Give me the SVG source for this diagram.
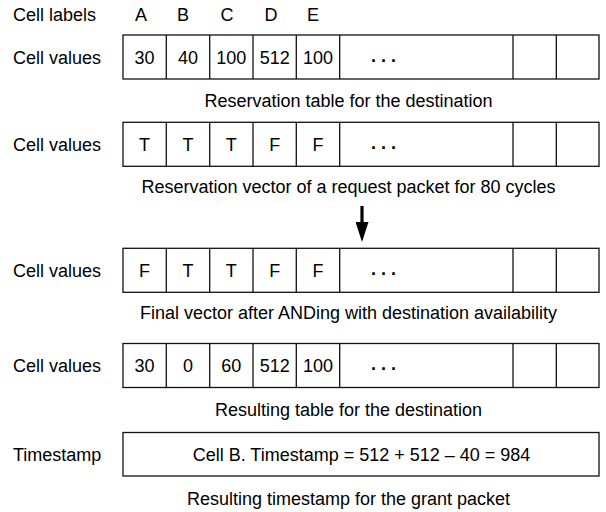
<svg xmlns="http://www.w3.org/2000/svg" width="606" height="512" viewBox="0 0 606 512">
<style>
text{font-family:"Liberation Sans",Arial,Helvetica,sans-serif;font-size:18px;fill:#000}
.c{text-anchor:middle}
.box{fill:none;stroke:#111;stroke-width:1.3}
.div{stroke:#111;stroke-width:1.3}
.dots{font-weight:bold}
</style>
<defs>
<marker id="ah" markerWidth="20" markerHeight="13" refX="0" refY="6.5" orient="auto" markerUnits="userSpaceOnUse" viewBox="0 0 20 13">
<path d="M0,0 L20,6.5 L0,13 Z" fill="#000"/>
</marker>
<g id="cells">
<line class="div" x1="166.3" y1="0" x2="166.3" y2="44"/>
<line class="div" x1="209.7" y1="0" x2="209.7" y2="44"/>
<line class="div" x1="253" y1="0" x2="253" y2="44"/>
<line class="div" x1="296.3" y1="0" x2="296.3" y2="44"/>
<line class="div" x1="339.7" y1="0" x2="339.7" y2="44"/>
<line class="div" x1="513" y1="0" x2="513" y2="44"/>
<line class="div" x1="556.3" y1="0" x2="556.3" y2="44"/>
<rect class="box" x="123" y="0" width="476" height="44"/>
</g>
</defs>

<g id="header">
<text x="13" y="20.5">Cell labels</text>
<text class="c" x="141" y="20.5">A</text>
<text class="c" x="183" y="20.5">B</text>
<text class="c" x="227" y="20.5">C</text>
<text class="c" x="271" y="20.5">D</text>
<text class="c" x="313" y="20.5">E</text>
</g>

<g id="row-reservation-table">
<text x="13" y="63.5">Cell values</text>
<use href="#cells" x="0" y="35"/>
<text class="c" x="144.6" y="63.5">30</text>
<text class="c" x="188" y="63.5">40</text>
<text class="c" x="231.3" y="63.5">100</text>
<text class="c" x="274.7" y="63.5">512</text>
<text class="c" x="318" y="63.5">100</text>
<text class="dots" x="371" y="61.5">. . .</text>
<text class="c" x="348.5" y="107">Reservation table for the destination</text>
</g>

<g id="row-reservation-vector">
<text x="13" y="150.5">Cell values</text>
<use href="#cells" x="0" y="122.3"/>
<text class="c" x="144.6" y="150.5">T</text>
<text class="c" x="188" y="150.5">T</text>
<text class="c" x="231.3" y="150.5">T</text>
<text class="c" x="274.7" y="150.5">F</text>
<text class="c" x="318" y="150.5">F</text>
<text class="dots" x="371" y="148.5">. . .</text>
<text class="c" x="348.5" y="193">Reservation vector of a request packet for 80 cycles</text>
</g>

<g id="row-final-vector">
<text x="13" y="277">Cell values</text>
<use href="#cells" x="0" y="248.3"/>
<text class="c" x="144.6" y="277">F</text>
<text class="c" x="188" y="277">T</text>
<text class="c" x="231.3" y="277">T</text>
<text class="c" x="274.7" y="277">F</text>
<text class="c" x="318" y="277">F</text>
<text class="dots" x="371" y="275">. . .</text>
<text class="c" x="348.5" y="319">Final vector after ANDing with destination availability</text>
</g>

<g id="row-resulting-table">
<text x="13" y="372">Cell values</text>
<use href="#cells" x="0" y="343.5"/>
<text class="c" x="144.6" y="372">30</text>
<text class="c" x="188" y="372">0</text>
<text class="c" x="231.3" y="372">60</text>
<text class="c" x="274.7" y="372">512</text>
<text class="c" x="318" y="372">100</text>
<text class="dots" x="371" y="370">. . .</text>
<text class="c" x="348.5" y="416">Resulting table for the destination</text>
</g>

<g id="row-timestamp">
<text x="13" y="460.5">Timestamp</text>
<rect class="box" x="123" y="432.5" width="476" height="43.5"/>
<text class="c" x="361.5" y="460.5">Cell B. Timestamp = 512 + 512 – 40 = 984</text>
<text class="c" x="348.5" y="505">Resulting timestamp for the grant packet</text>
</g>

<g id="connectors">
<line x1="362" y1="206" x2="362" y2="222" stroke="#000" stroke-width="3.2" marker-end="url(#ah)"/>
</g>
</svg>
